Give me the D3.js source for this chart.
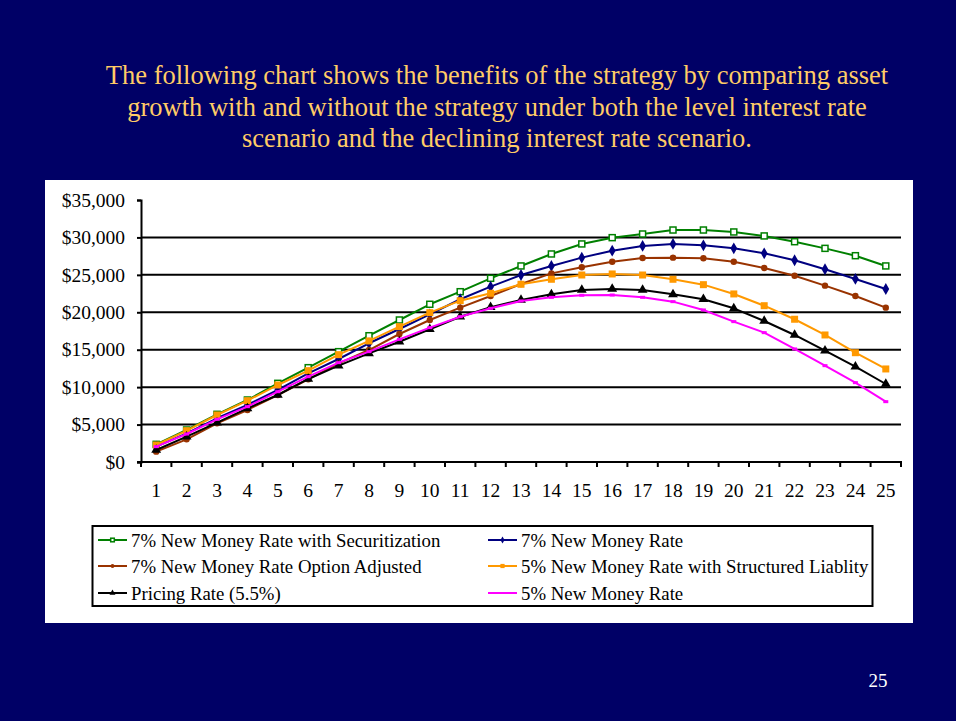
<!DOCTYPE html>
<html>
<head>
<meta charset="utf-8">
<script src="https://cdn.jsdelivr.net/npm/d3@7"></script>
<style>
  html, body { margin: 0; padding: 0; background: #000066; }
  svg { display: block; }
</style>
</head>
<body>
<svg id="slide" width="956" height="721"></svg>
<script>
// Years along the horizontal axis
const years = d3.range(1, 26);

// Asset values ($) by year for each scenario
const secur7 = [2360, 4275, 6370, 8280, 10510, 12600, 14740, 16870, 18970, 21070, 22750, 24540, 26190, 27790, 29130, 29970, 30460, 30990, 30990, 30730, 30200, 29430, 28540, 27560, 26190];
const newMoney7 = [2050, 3830, 5840, 7620, 9620, 11850, 13760, 15860, 17770, 19730, 21740, 23420, 24980, 26190, 27300, 28230, 28860, 29130, 28950, 28540, 27880, 26950, 25750, 24450, 23110];
const optAdj7 = [1380, 3030, 5170, 6950, 8950, 11050, 13180, 14960, 17100, 18970, 20620, 22180, 23780, 25200, 26010, 26760, 27250, 27300, 27210, 26760, 25920, 24890, 23560, 22180, 20620];
const structured5 = [2270, 4180, 6280, 8190, 10290, 12200, 14340, 16170, 18080, 19950, 21550, 22540, 23740, 24410, 24980, 25120, 24980, 24410, 23690, 22450, 20880, 19070, 16970, 14600, 12430];
const pricing55 = [1600, 3380, 5250, 7170, 8950, 11090, 12870, 14520, 16070, 17730, 19410, 20670, 21640, 22400, 22980, 23110, 22980, 22400, 21740, 20530, 18840, 16970, 14870, 12730, 10420];
const newMoney5 = [2050, 3740, 5700, 7390, 9390, 11400, 13270, 14740, 16390, 17950, 19410, 20530, 21510, 22000, 22270, 22310, 22000, 21420, 20310, 18750, 17280, 15100, 12870, 10600, 8060];

const yTicks = [0, 5000, 10000, 15000, 20000, 25000, 30000, 35000];

const seriesNames = [
  "7% New Money Rate with Securitization",
  "7% New Money Rate",
  "7% New Money Rate Option Adjusted",
  "5% New Money Rate with Structured Liablity",
  "Pricing Rate (5.5%)",
  "5% New Money Rate"
];

const titleLines = [
  "The following chart shows the benefits of the strategy by comparing asset",
  "growth with and without the strategy under both the level interest rate",
  "scenario and the declining interest rate scenario."
];

// Series styling (drawing order: back to front)
const series = [
  { name: seriesNames[0], values: secur7, color: "#008000", marker: "hollowSquare" },
  { name: seriesNames[1], values: newMoney7, color: "#000080", marker: "diamond" },
  { name: seriesNames[2], values: optAdj7, color: "#993300", marker: "circle" },
  { name: seriesNames[3], values: structured5, color: "#FF9900", marker: "square" },
  { name: seriesNames[4], values: pricing55, color: "#000000", marker: "triangle" },
  { name: seriesNames[5], values: newMoney5, color: "#FF00FF", marker: "dash" }
];

const svg = d3.select("#slide");
const serif = "'Liberation Serif', 'Times New Roman', serif";

// Slide background
svg.append("rect").attr("width", 956).attr("height", 721).attr("fill", "#000066");

// Title
svg.append("g")
  .selectAll("text")
  .data(titleLines)
  .join("text")
  .attr("x", 497)
  .attr("y", (d, i) => 84 + i * 31.5)
  .attr("text-anchor", "middle")
  .attr("font-family", serif)
  .attr("font-size", 26.5)
  .attr("fill", "#FFCC66")
  .text(d => d);

// Page number
svg.append("text")
  .attr("x", 878).attr("y", 687)
  .attr("text-anchor", "middle")
  .attr("font-family", serif)
  .attr("font-size", 19)
  .attr("fill", "#FFFFFF")
  .text("25");

// White chart panel
svg.append("rect")
  .attr("x", 45).attr("y", 180).attr("width", 868).attr("height", 443)
  .attr("fill", "#FFFFFF");

// Plot area
const plot = { left: 141, right: 901, top: 200, bottom: 462 };

const x = d3.scaleBand()
  .domain(years)
  .range([plot.left, plot.right])
  .paddingInner(0).paddingOuter(0);

const y = d3.scaleLinear()
  .domain([0, 35000])
  .range([plot.bottom, plot.top]);

const fmt = v => "$" + d3.format(",")(v);

// Horizontal gridlines
svg.append("g")
  .selectAll("line")
  .data(yTicks.filter(t => t > 0 && t < 35000))
  .join("line")
  .attr("x1", plot.left).attr("x2", plot.right)
  .attr("y1", d => y(d)).attr("y2", d => y(d))
  .attr("stroke", "#000").attr("stroke-width", 2);

// Y axis
const yAxis = svg.append("g")
  .attr("transform", `translate(${plot.left},0)`)
  .call(d3.axisLeft(y).tickValues(yTicks).tickFormat(fmt).tickSize(4).tickPadding(12));
yAxis.select(".domain").attr("stroke", "#000").attr("stroke-width", 2);
yAxis.selectAll(".tick line").attr("stroke", "#000").attr("stroke-width", 2);
yAxis.selectAll("text")
  .attr("font-family", serif).attr("font-size", 19.5).attr("fill", "#000");

// X axis with ticks at category boundaries
const xAxis = svg.append("g")
  .attr("transform", `translate(0,${plot.bottom})`)
  .call(d3.axisBottom(x).tickSize(0).tickPadding(21));
xAxis.select(".domain").remove();
xAxis.selectAll("text")
  .attr("font-family", serif).attr("font-size", 19.5).attr("fill", "#000");
svg.append("line")
  .attr("x1", plot.left - 4).attr("x2", plot.right + 1)
  .attr("y1", plot.bottom).attr("y2", plot.bottom)
  .attr("stroke", "#000").attr("stroke-width", 2);
const boundaries = years.map(d => x(d)).concat([x(years[years.length - 1]) + x.bandwidth()]);
svg.append("g")
  .selectAll("line")
  .data(boundaries)
  .join("line")
  .attr("x1", d => d).attr("x2", d => d)
  .attr("y1", plot.bottom).attr("y2", plot.bottom + 5)
  .attr("stroke", "#000").attr("stroke-width", 2);

const cx = d => x(d) + x.bandwidth() / 2;

// Marker drawing
function drawMarker(g, type, color, scale = 1) {
  switch (type) {
    case "hollowSquare":
      g.append("rect").attr("x", -3 * scale).attr("y", -3 * scale)
        .attr("width", 6 * scale).attr("height", 6 * scale)
        .attr("fill", "#fff").attr("stroke", color).attr("stroke-width", 1.5);
      break;
    case "diamond":
      g.append("path").attr("d", d3.symbol(d3.symbolDiamond, 40 * scale * scale)())
        .attr("fill", color);
      break;
    case "circle":
      g.append("circle").attr("r", 3.2 * scale).attr("fill", color);
      break;
    case "square":
      g.append("rect").attr("x", -3.5 * scale).attr("y", -3.5 * scale)
        .attr("width", 7 * scale).attr("height", 7 * scale).attr("fill", color);
      break;
    case "triangle":
      g.append("path").attr("d", d3.symbol(d3.symbolTriangle, 42 * scale * scale)())
        .attr("fill", color);
      break;
    case "dash":
      g.append("rect").attr("x", -2.5 * scale).attr("y", -1.5 * scale)
        .attr("width", 5 * scale).attr("height", 3 * scale).attr("fill", color);
      break;
  }
}

const line = d3.line()
  .x((d, i) => cx(years[i]))
  .y(d => y(d));

series.forEach(s => {
  const g = svg.append("g");
  g.append("path")
    .datum(s.values)
    .attr("d", line)
    .attr("fill", "none")
    .attr("stroke", s.color)
    .attr("stroke-width", 2)
    .attr("stroke-linejoin", "round");
  s.values.forEach((v, i) => {
    const m = g.append("g").attr("transform", `translate(${cx(years[i])},${y(v)})`);
    drawMarker(m, s.marker, s.color);
  });
});

// Legend
const legend = svg.append("g");
legend.append("rect")
  .attr("x", 92.5).attr("y", 526).attr("width", 780).attr("height", 80)
  .attr("fill", "#fff").attr("stroke", "#000").attr("stroke-width", 2);

const legendCols = [98, 488];
const legendRows = [540, 566, 593];
series.forEach((s, i) => {
  const lx = legendCols[i % 2];
  const ly = legendRows[Math.floor(i / 2)];
  const g = legend.append("g");
  g.append("line")
    .attr("x1", lx).attr("x2", lx + 29)
    .attr("y1", ly).attr("y2", ly)
    .attr("stroke", s.color).attr("stroke-width", 2);
  const m = g.append("g").attr("transform", `translate(${lx + 14.5},${ly})`);
  drawMarker(m, s.marker, s.color, 0.6);
  g.append("text")
    .attr("x", lx + 33).attr("y", ly + 6.5)
    .attr("font-family", serif).attr("font-size", 18.8)
    .attr("fill", "#000")
    .text(s.name);
});
</script>
</body>
</html>
